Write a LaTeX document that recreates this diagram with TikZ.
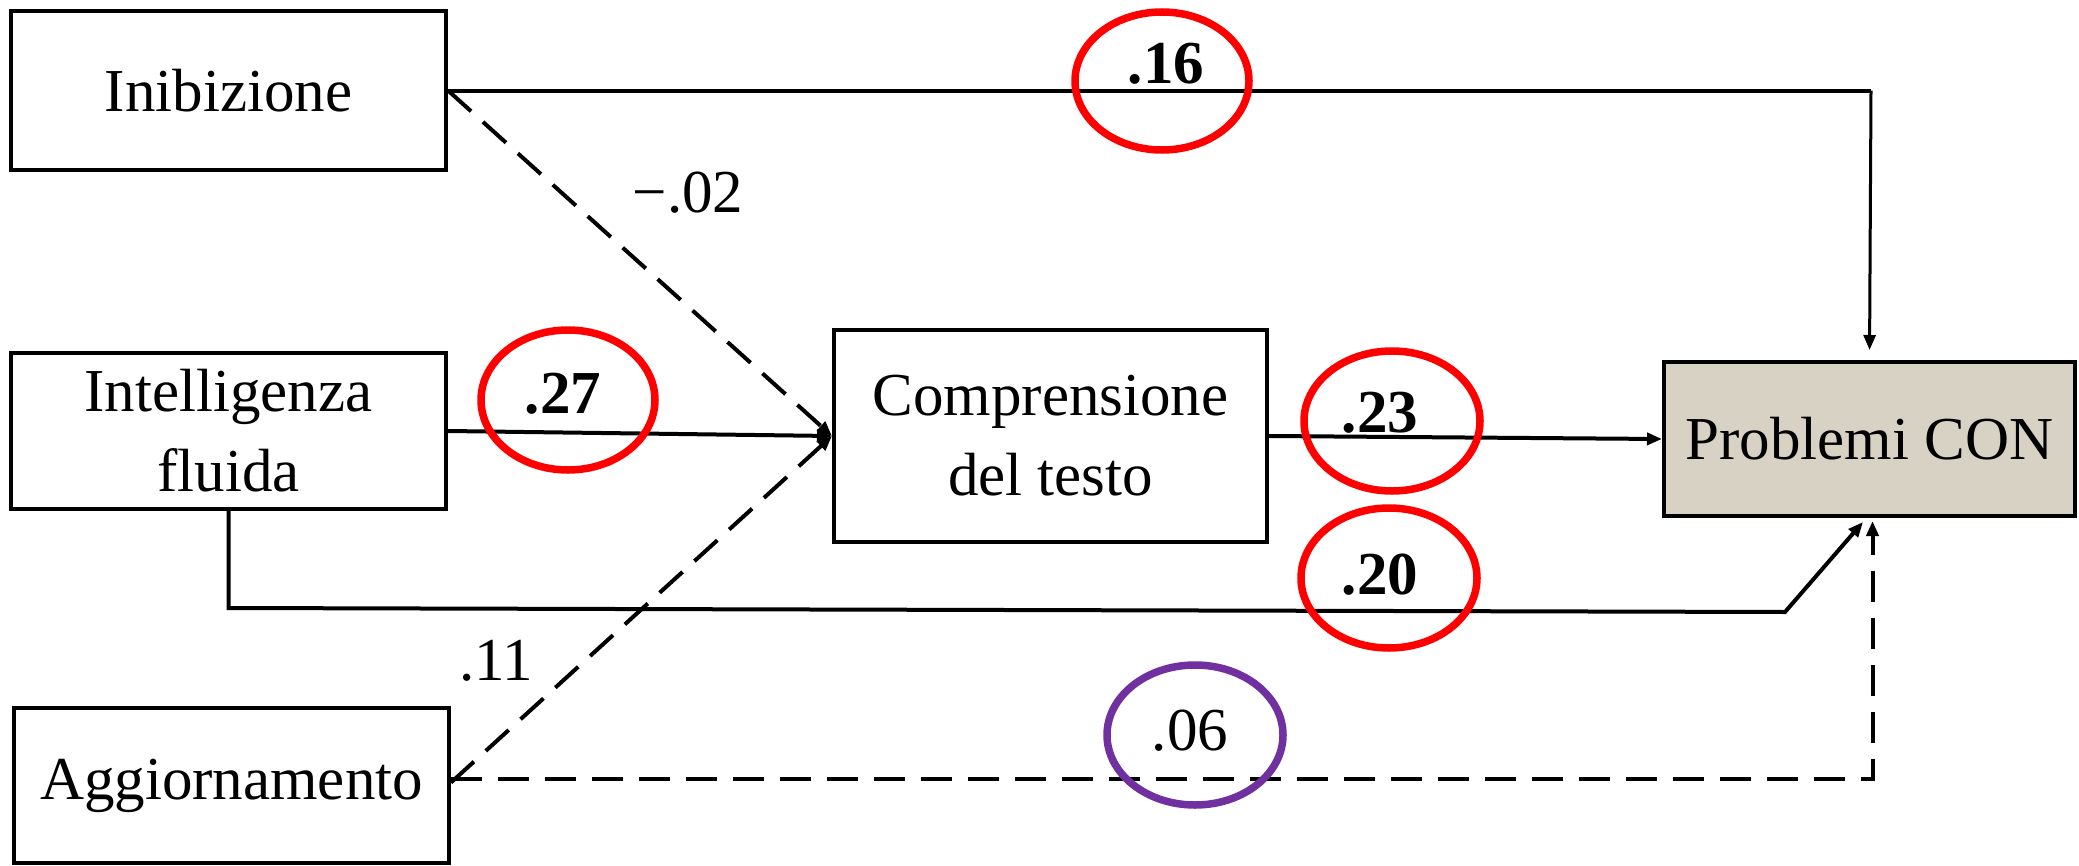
\documentclass[tikz,border=0pt]{standalone}
\usepackage{fontspec}
\setmainfont{Liberation Serif}
\usetikzlibrary{arrows.meta,shapes.geometric}
\definecolor{boxtan}{HTML}{D8D2C4}
\definecolor{ringred}{HTML}{FF0000}
\definecolor{ringpurple}{HTML}{7030A0}
\begin{document}
\begin{tikzpicture}[x=1bp,y=-1bp,
  every node/.style={font=\fontsize{61bp}{80bp}\selectfont},
  varbox/.style={draw,line width=4bp,rectangle,align=center,inner sep=0pt},
  path/.style={line width=4bp},
  thinpath/.style={line width=3bp},
  nspath/.style={line width=4bp,dash pattern=on 31bp off 16bp},
  arr/.style={-{Triangle[length=15bp,width=12bp]}},
  ring/.style={draw,ellipse,line width=7.5bp,inner sep=0pt},
  coef/.style={anchor=base,inner sep=0pt},
  sig/.style={coef,font=\fontsize{61bp}{80bp}\selectfont\bfseries}
]
\useasboundingbox (0,0) rectangle (2079,866);

% variables
\node[varbox,minimum width=435bp,minimum height=159bp] (inib) at (228.5,90.5) {Inibizione};
\node[varbox,minimum width=435bp,minimum height=156bp] (intel) at (228.5,431) {Intelligenza\\fluida};
\node[varbox,minimum width=435bp,minimum height=155bp] (aggi) at (231.5,785.5) {Aggiornamento};
\node[varbox,minimum width=433bp,minimum height=212bp] (compr) at (1050.5,436) {Comprensione\\del testo};
\node[varbox,fill=boxtan,minimum width=411bp,minimum height=154bp] (prob) at (1869.5,439) {Problemi CON};

% bend points of the routed paths
\coordinate (lowA) at (228.5,608);
\coordinate (lowB) at (1785,612);
\coordinate (lowTip) at (1863,522);
\coordinate (topBend) at (1871,90.5);

% paths
\draw[path] (inib.east) -- (topBend);
\draw[thinpath,arr,shorten >=10bp] (topBend) -- (prob.north);
\draw[nspath,arr] (inib.east) -- (compr.west);
\draw[path,arr] (intel.east) -- (compr.west);
\draw[nspath,arr] ([yshift=3bp]aggi.east) -- (compr.west);
\draw[path,arr] (compr.east) -- (prob.west);
\draw[path,arr] (intel.south) -- (lowA) -- (lowB) -- (lowTip);
\draw[nspath,arr,shorten >=3bp] ([yshift=7bp]aggi.east) -| ([xshift=3bp]prob.south);

% highlight rings
\node[ring,draw=ringred,minimum width=174bp,minimum height=138bp] (r16) at (1162,81) {};
\node[ring,draw=ringred,minimum width=174bp,minimum height=140bp] (r27) at (568,400) {};
\node[ring,draw=ringred,minimum width=176bp,minimum height=140bp] (r23) at (1392,421) {};
\node[ring,draw=ringred,minimum width=176bp,minimum height=140bp] (r20) at (1389,578) {};
\node[ring,draw=ringpurple,minimum width=176bp,minimum height=140bp] (r06) at (1195,735) {};

% coefficients
\node[coef] (c02) at (688,212) {−.02};
\node[coef] (c11) at (496,680) {.11};
\node[sig] (c16) at (1166,83) {.16};
\node[sig] (c27) at (563,413) {.27};
\node[sig] (c23) at (1380,432) {.23};
\node[sig] (c20) at (1380,594) {.20};
\node[coef] (c06) at (1190,750) {.06};
\end{tikzpicture}
\end{document}
